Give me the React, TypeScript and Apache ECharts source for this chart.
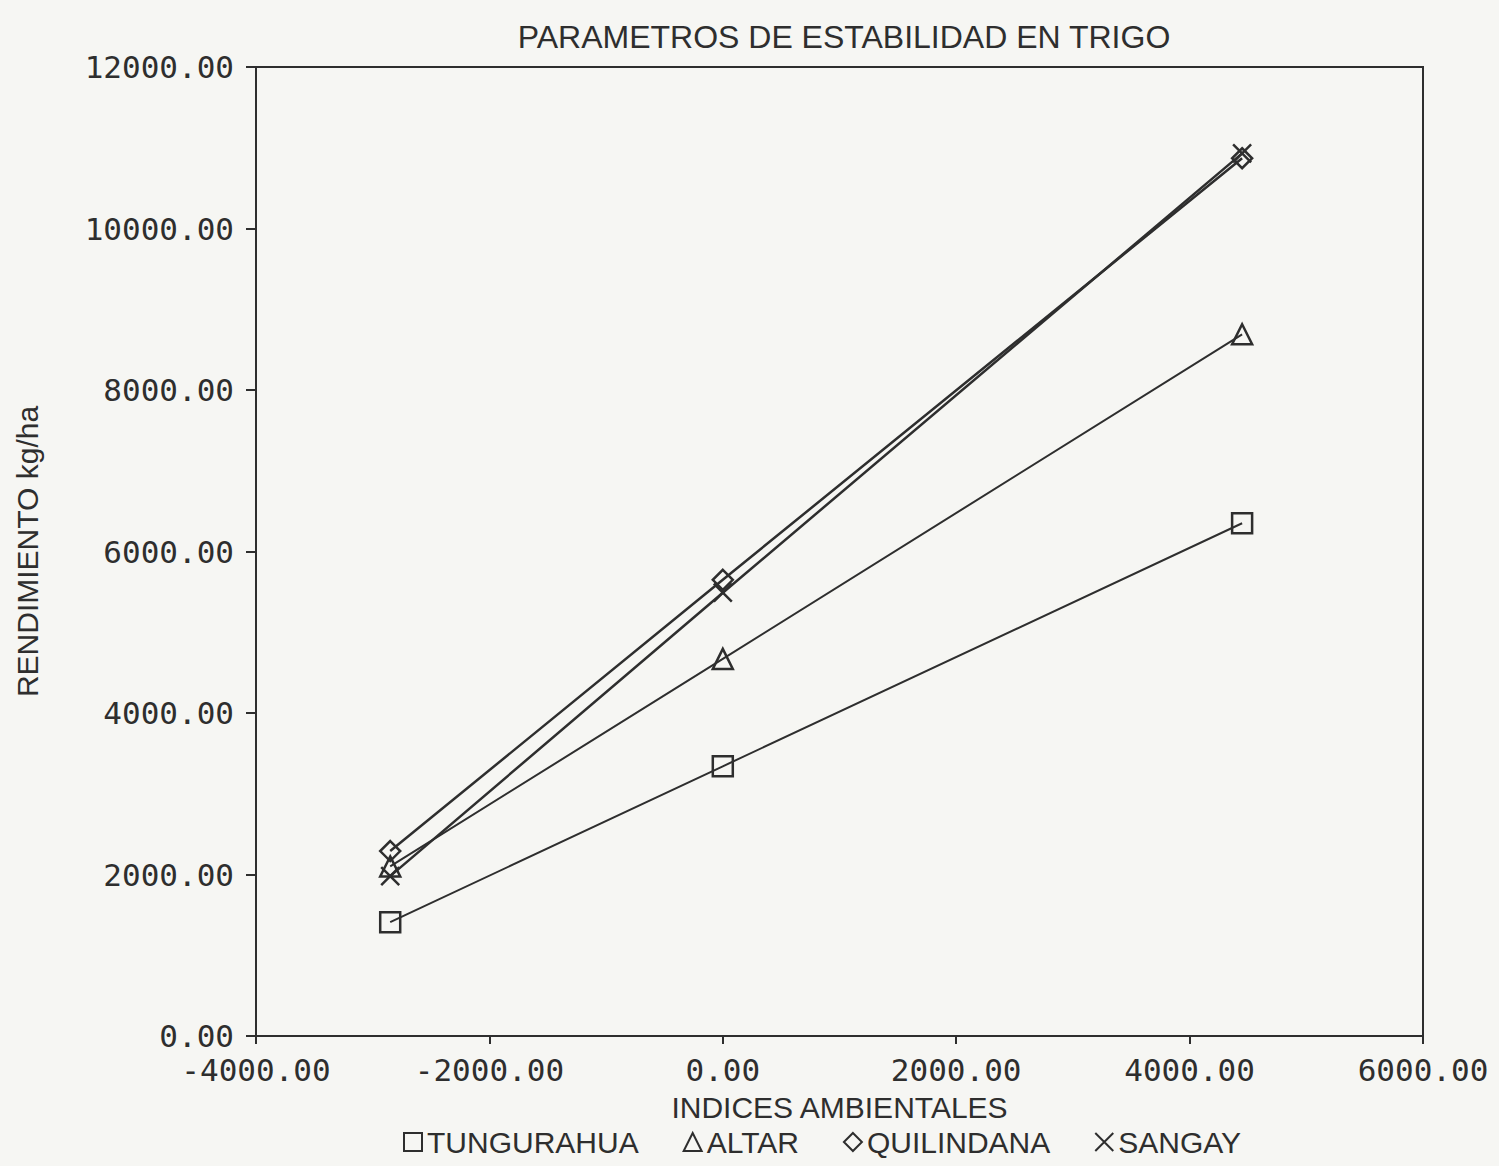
import React, { useEffect, useRef } from "react";
import * as echarts from "echarts";

const indices = [-2850, 0, 4450];
const tungurahua = [1410, 3340, 6350];
const altar = [2100, 4670, 8690];
const quilindana = [2290, 5650, 10870];
const sangay = [1980, 5490, 10930];

const seriesNames = ["TUNGURAHUA", "ALTAR", "QUILINDANA", "SANGAY"];
const seriesValues = [tungurahua, altar, quilindana, sangay];
const xSymbol = "path://M0,0L10,10M10,0L0,10";
const symbols = ["rect", "triangle", "diamond", xSymbol];

const INK = "#2e2e2e";
const MONO = "'DejaVu Sans Mono', monospace";
const SANS = "'Liberation Sans', 'DejaVu Sans', sans-serif";

export default function App() {
  const ref = useRef<HTMLDivElement>(null);
  useEffect(() => {
    document.body.style.margin = "0";
    const chart = echarts.init(ref.current!, null, { renderer: "svg" });
    chart.setOption({
      animation: false,
      backgroundColor: "#f6f6f3",
      title: {
        text: "PARAMETROS DE ESTABILIDAD EN TRIGO",
        left: 839,
        textAlign: "center",
        top: 16,
        textStyle: { fontFamily: SANS, fontSize: 32, fontWeight: "normal", color: INK },
      },
      legend: {
        bottom: 4,
        left: 398,
        itemGap: 44,
        itemWidth: 18,
        itemHeight: 18,
        textStyle: { fontFamily: SANS, fontSize: 30, color: INK },
        data: seriesNames.map((n, i) => ({
          name: n,
          icon: symbols[i],
          itemStyle: { color: "transparent", borderColor: INK, borderWidth: 2 },
        })),
      },
      grid: {
        left: 256,
        right: 76,
        top: 67,
        bottom: 130,
        containLabel: false,
        outerBoundsMode: "none",
        show: true,
        borderColor: INK,
        borderWidth: 2,
        backgroundColor: "transparent",
      },
      xAxis: {
        type: "value",
        min: -4000,
        max: 6000,
        interval: 2000,
        name: "INDICES AMBIENTALES",
        nameLocation: "middle",
        nameGap: 56,
        nameTextStyle: { fontFamily: SANS, fontSize: 30, color: INK },
        axisLine: { show: true, onZero: false, lineStyle: { color: INK, width: 2 } },
        axisTick: { show: true, length: 8, lineStyle: { color: INK, width: 2 } },
        splitLine: { show: false },
        axisLabel: {
          fontFamily: MONO,
          fontSize: 31,
          color: INK,
          margin: 18,
          formatter: (v: number) => v.toFixed(2),
        },
      },
      yAxis: {
        type: "value",
        min: 0,
        max: 12000,
        interval: 2000,
        name: "RENDIMIENTO kg/ha",
        nameLocation: "middle",
        nameGap: 214,
        nameRotate: 90,
        nameTextStyle: { fontFamily: SANS, fontSize: 30, color: INK },
        axisLine: { show: true, onZero: false, lineStyle: { color: INK, width: 2 } },
        axisTick: { show: true, length: 10, lineStyle: { color: INK, width: 2 } },
        splitLine: { show: false },
        axisLabel: {
          fontFamily: MONO,
          fontSize: 31,
          color: INK,
          margin: 22,
          formatter: (v: number) => v.toFixed(2),
        },
      },
      series: seriesNames.map((n, i) => ({
        name: n,
        type: "line",
        data: indices.map((x, j) => [x, seriesValues[i][j]]),
        symbol: symbols[i],
        symbolSize: i === 3 ? 18 : 20,
        showAllSymbol: true,
        lineStyle: { color: INK, width: i >= 2 ? 2.5 : 2 },
        itemStyle: { color: "transparent", borderColor: INK, borderWidth: 2.5 },
      })),
    });
    return () => chart.dispose();
  }, []);
  return <div ref={ref} style={{ width: 1499, height: 1166 }} />;
}
